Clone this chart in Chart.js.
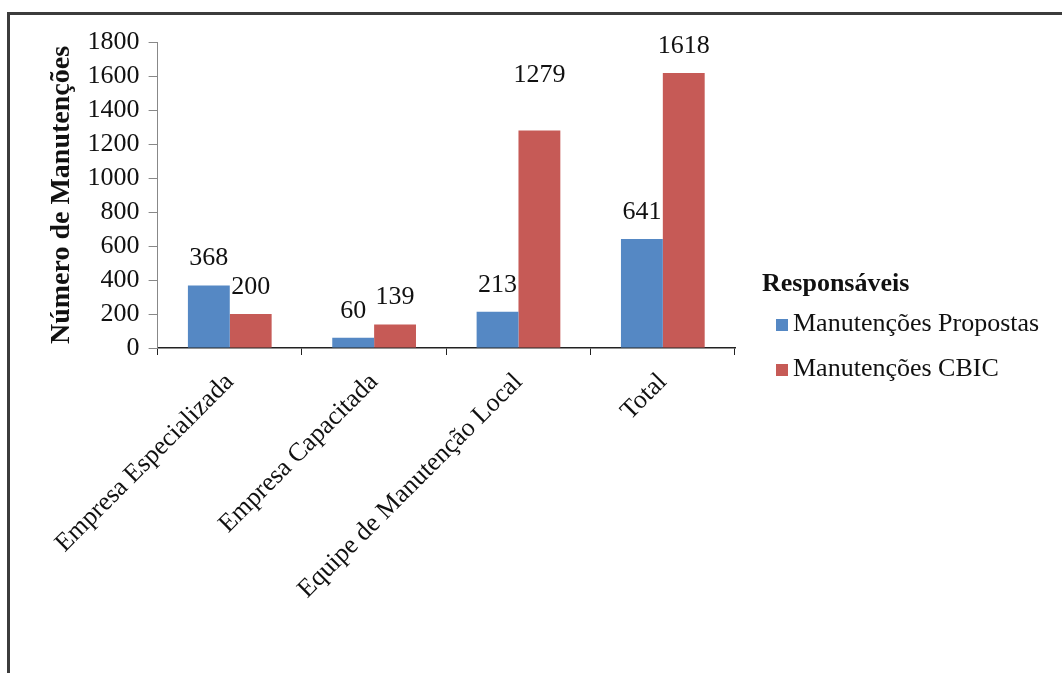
<!DOCTYPE html>
<html lang="pt">
<head>
<meta charset="utf-8">
<title>Número de Manutenções por responsável</title>
<script src="https://cdn.jsdelivr.net/npm/chart.js@4.4.1/dist/chart.umd.min.js"></script>
<style>
  html, body { margin: 0; padding: 0; background: #fff; overflow: hidden; }
  body { width: 1062px; height: 673px; position: relative; font-family: "Liberation Serif", "Times New Roman", serif; color: #111; }
  #frame { position: absolute; left: 7px; top: 12px; width: 1200px; height: 800px; border: 3px solid #3c3c3c; }
  #chart { position: absolute; left: 0; top: 0; }
  #legend { position: absolute; left: 762px; top: 270px; font-size: 26px; line-height: 1; }
  #legend .title { font-weight: bold; margin-bottom: 14px; }
  #legend .item { display: flex; align-items: center; margin-left: 14px; margin-bottom: 19px; }
  #legend .swatch { width: 12px; height: 12px; margin-right: 5px; margin-top: 3px; }
</style>
</head>
<body>
<div id="frame"></div>
<canvas id="chart" width="1062" height="673"></canvas>
<div id="legend"></div>

<script>
// categories and values
const categories = ['Empresa Especializada', 'Empresa Capacitada', 'Equipe de Manutenção Local', 'Total'];
const propostas = [368, 60, 213, 641];
const cbic = [200, 139, 1279, 1618];
const seriesNames = ['Manutenções Propostas', 'Manutenções CBIC'];
const yTicks = [0, 200, 400, 600, 800, 1000, 1200, 1400, 1600, 1800];

const colors = ['#5588C4', '#C65A56'];
const serif = "'Liberation Serif', 'Times New Roman', serif";

// value labels above each bar (the 1279 label sits higher in the original)
const barLabels = {
    id: 'barLabels',
    afterDatasetsDraw(chart, args, opts) {
        const ctx = chart.ctx;
        ctx.save();
        ctx.font = '26px ' + serif;
        ctx.fillStyle = '#111';
        ctx.textAlign = 'center';
        ctx.textBaseline = 'middle';
        chart.data.datasets.forEach((ds, i) => {
            chart.getDatasetMeta(i).data.forEach((bar, j) => {
                const lift = opts.extra[i + '-' + j] || opts.lift;
                ctx.fillText(String(ds.data[j]), bar.x, bar.y - lift);
            });
        });
        ctx.restore();
    }
};

new Chart(document.getElementById('chart').getContext('2d'), {
    type: 'bar',
    data: {
        labels: categories,
        datasets: [
            { label: seriesNames[0], data: propostas, backgroundColor: colors[0] },
            { label: seriesNames[1], data: cbic, backgroundColor: colors[1] }
        ]
    },
    options: {
        responsive: false,
        animation: false,
        devicePixelRatio: 1,
        datasets: { bar: { barPercentage: 1, categoryPercentage: 0.58 } },
        layout: { padding: { left: 45, right: 327, top: 42, bottom: 56 } },
        plugins: {
            legend: { display: false },
            tooltip: { enabled: false },
            barLabels: { lift: 27, extra: { '1-2': 55 } }
        },
        scales: {
            x: {
                grid: { drawOnChartArea: false, offset: true, tickLength: 7, color: '#222' },
                border: { color: '#222', width: 1.5 },
                ticks: { maxRotation: 45, minRotation: 45, padding: 12, color: '#111', font: { family: serif, size: 26 } }
            },
            y: {
                min: 0,
                max: yTicks[yTicks.length - 1],
                afterBuildTicks: axis => { axis.ticks = yTicks.map(v => ({ value: v })); },
                grid: { drawOnChartArea: false, tickLength: 9, color: '#888' },
                border: { color: '#888' },
                ticks: { autoSkip: false, padding: 9, color: '#111', font: { family: serif, size: 26 }, callback: v => String(v) },
                title: {
                    display: true,
                    text: 'Número de Manutenções',
                    color: '#111',
                    padding: 0,
                    font: { family: serif, size: 28, weight: 'bold' }
                }
            }
        }
    },
    plugins: [barLabels]
});

// legend drawn as html to the right of the plot
const legend = document.getElementById('legend');
legend.innerHTML = '<div class="title">Responsáveis</div>';
seriesNames.forEach((name, i) => {
    const row = document.createElement('div');
    row.className = 'item';
    row.innerHTML = '<span class="swatch" style="background:' + colors[i] + '"></span><span>' + name + '</span>';
    legend.appendChild(row);
});
</script>
</body>
</html>
